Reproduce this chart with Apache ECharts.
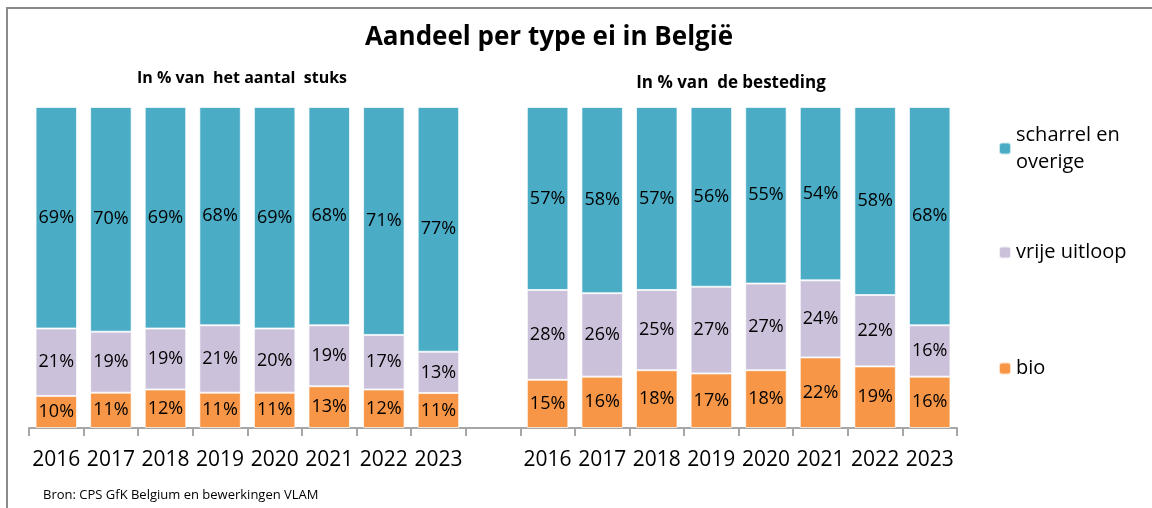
<!DOCTYPE html>
<html>
<head>
<meta charset="utf-8">
<title>Aandeel per type ei in België</title>
<script src="https://cdn.jsdelivr.net/npm/echarts@6/dist/echarts.min.js"></script>
<style>
  html, body { margin: 0; padding: 0; background: #fff; }
  #chart { width: 1152px; height: 508px; }
</style>
</head>
<body>
<div id="chart"></div>
<script>
  // jaren per paneel
  const years = ['2016', '2017', '2018', '2019', '2020', '2021', '2022', '2023']

  // in % van het aantal stuks
  const bioStuks = [10, 11, 12, 11, 11, 13, 12, 11]
  const vrijeStuks = [21, 19, 19, 21, 20, 19, 17, 13]
  const scharrelStuks = [69, 70, 69, 68, 69, 68, 71, 77]

  // in % van de besteding
  const bioBesteding = [15, 16, 18, 17, 18, 22, 19, 16]
  const vrijeBesteding = [28, 26, 25, 27, 27, 24, 22, 16]
  const scharrelBesteding = [57, 58, 57, 56, 55, 54, 58, 68]

  const FONT = '"Open Sans", "Noto Sans", sans-serif'

  // beide panelen op een as, met een lege categorie ertussen
  const categories = [...years, '', ...years]

  // 100% gestapeld zoals in Excel: hoogte genormaliseerd, label toont de afgeronde waarde
  function stacked100(parts) {
    return parts.map(arr => arr.map((v, i) => {
      const total = parts.reduce((s, a) => s + a[i], 0)
      return { value: v / total * 100, raw: v }
    }))
  }
  const stuks = stacked100([bioStuks, vrijeStuks, scharrelStuks])
  const besteding = stacked100([bioBesteding, vrijeBesteding, scharrelBesteding])
  const join = (a, b) => [...a, null, ...b]

  const myChart = echarts.init(document.getElementById('chart'))

  function barSeries(name, data, color) {
    return {
      name: name,
      type: 'bar',
      stack: 'total',
      data: data,
      barWidth: '76%',
      itemStyle: {
        color: color,
        borderColor: 'rgba(255,255,255,0.7)',
        borderWidth: 1
      },
      label: {
        show: true,
        position: 'inside',
        color: '#000',
        fontFamily: FONT,
        fontSize: 18,
        formatter: p => p.data.raw + '%'
      },
      animation: false
    }
  }

  function legendItem(name, top, padTop) {
    return {
      data: [name],
      orient: 'vertical',
      left: 998,
      top: top,
      padding: 0,
      itemWidth: 12,
      itemHeight: 12,
      itemGap: 0,
      selectedMode: false,
      formatter: n => n.replace(' overige', '\noverige'),
      textStyle: {
        color: '#000',
        fontFamily: FONT,
        fontSize: 20,
        lineHeight: 27,
        padding: [padTop, 0, 0, 0]
      }
    }
  }

  myChart.setOption({
    animation: false,
    grid: {
      left: 29,
      right: 195,
      top: 107,
      bottom: 80
    },
    xAxis: {
      type: 'category',
      data: categories,
      axisLine: {
        lineStyle: { color: '#a6a6a6', width: 2 }
      },
      axisTick: {
        show: true,
        interval: 0,
        length: 8,
        lineStyle: { color: '#a6a6a6', width: 2 }
      },
      axisLabel: {
        interval: 0,
        color: '#000',
        fontFamily: FONT,
        fontSize: 21,
        margin: 22
      }
    },
    yAxis: {
      type: 'value',
      min: 0,
      max: 100,
      show: false
    },
    legend: [
      legendItem('scharrel en overige', 108, 27),
      legendItem('vrije uitloop', 239, 0),
      legendItem('bio', 355, 0)
    ],
    graphic: [
      {
        type: 'rect',
        shape: { x: 7, y: 8, width: 1200, height: 600 },
        style: { fill: 'none', stroke: '#8a8a8a', lineWidth: 2 },
        silent: true
      },
      {
        type: 'text',
        x: 549, y: 38,
        style: {
          text: 'Aandeel per type ei in België',
          font: 'bold 26px ' + FONT,
          fill: '#000',
          textAlign: 'center',
          textVerticalAlign: 'middle'
        }
      },
      {
        type: 'text',
        x: 242, y: 78,
        style: {
          text: 'In % van  het aantal  stuks',
          font: 'bold 16px ' + FONT,
          fill: '#000',
          textAlign: 'center',
          textVerticalAlign: 'middle'
        }
      },
      {
        type: 'text',
        x: 731, y: 83,
        style: {
          text: 'In % van  de besteding',
          font: 'bold 17px ' + FONT,
          fill: '#000',
          textAlign: 'center',
          textVerticalAlign: 'middle'
        }
      },
      {
        type: 'text',
        x: 43, y: 495,
        style: {
          text: 'Bron: CPS GfK Belgium en bewerkingen VLAM',
          font: '13px ' + FONT,
          fill: '#000',
          textAlign: 'left',
          textVerticalAlign: 'middle'
        }
      }
    ],
    series: [
      barSeries('bio', join(stuks[0], besteding[0]), '#F79646'),
      barSeries('vrije uitloop', join(stuks[1], besteding[1]), '#CCC1DA'),
      barSeries('scharrel en overige', join(stuks[2], besteding[2]), '#4BACC6')
    ]
  })
</script>
</body>
</html>
